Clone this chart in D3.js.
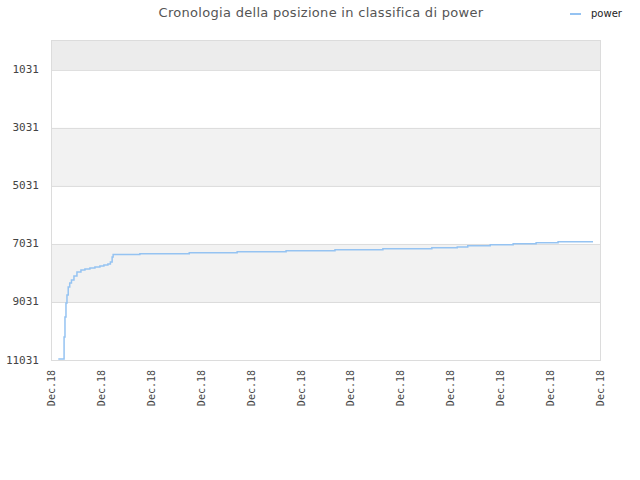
<!DOCTYPE html>
<html>
<head>
<meta charset="utf-8">
<script src="https://cdn.jsdelivr.net/npm/d3@7"></script>
<style>
  body { margin: 0; background: #fff; }
</style>
</head>
<body>
<div id="chart"></div>
<script>
// chart data
const title = "Cronologia della posizione in classifica di power";
const seriesName = "power";
const xTickLabels = ["Dec.18", "Dec.18", "Dec.18", "Dec.18", "Dec.18", "Dec.18",
                     "Dec.18", "Dec.18", "Dec.18", "Dec.18", "Dec.18", "Dec.18"];
const yTicks = [1031, 3031, 5031, 7031, 9031, 11031];
// time in tick units, rank position
const times = [0.146, 0.262, 0.28, 0.30, 0.32, 0.345, 0.375, 0.41, 0.46, 0.52, 0.60, 0.68,
               0.78, 0.88, 0.98, 1.06, 1.14, 1.19, 1.225, 1.245, 1.78, 2.77, 3.73, 4.71,
               5.69, 6.65, 7.63, 8.14, 8.35, 8.80, 9.26, 9.72, 10.16, 10.86];
const ranks = [10996, 10238, 9548, 9066, 8790, 8514, 8376, 8273, 8135, 7998, 7929, 7895,
               7860, 7826, 7791, 7756, 7722, 7653, 7481, 7395, 7367, 7332, 7298, 7263,
               7229, 7194, 7160, 7136, 7091, 7057, 7022, 6988, 6953, 6953];

const width = 640, height = 480;
const margin = {top: 40, right: 40, bottom: 120, left: 51};

const svg = d3.select("#chart").append("svg")
  .attr("width", width)
  .attr("height", height);

const x = d3.scaleLinear()
  .domain([0, xTickLabels.length - 1])
  .range([margin.left, width - margin.right]);
const y = d3.scaleLinear()
  .domain([0, 11031])
  .range([margin.top, height - margin.bottom]);

// alternating bands
const bandEdges = [0].concat(yTicks);
const bandFill = ["#ececec", "#ffffff", "#f2f2f2", "#ffffff", "#f2f2f2", "#ffffff"];
svg.append("g").selectAll("rect")
  .data(d3.pairs(bandEdges))
  .join("rect")
  .attr("x", x.range()[0])
  .attr("width", x.range()[1] - x.range()[0])
  .attr("y", d => y(d[0]))
  .attr("height", d => y(d[1]) - y(d[0]))
  .attr("fill", (d, i) => bandFill[i]);

// grid lines
svg.append("g").selectAll("line")
  .data(yTicks)
  .join("line")
  .attr("x1", x.range()[0])
  .attr("x2", x.range()[1])
  .attr("y1", d => y(d) + 0.5)
  .attr("y2", d => y(d) + 0.5)
  .attr("stroke", "#dcdcdc");

svg.append("rect")
  .attr("x", x.range()[0] + 0.5)
  .attr("y", y.range()[0] + 0.5)
  .attr("width", x.range()[1] - x.range()[0])
  .attr("height", y.range()[1] - y.range()[0])
  .attr("fill", "none")
  .attr("stroke", "#dcdcdc");

// y labels
svg.append("g").selectAll("text")
  .data(yTicks)
  .join("text")
  .attr("x", 39)
  .attr("y", d => y(d))
  .attr("text-anchor", "end")
  .attr("dominant-baseline", "central")
  .attr("font-family", "DejaVu Sans Mono")
  .attr("font-size", 11)
  .attr("fill", "#444")
  .text(d => d);

// x labels
svg.append("g").selectAll("text")
  .data(xTickLabels)
  .join("text")
  .attr("transform", (d, i) => `translate(${x(i) + 4},${y.range()[1] + 10}) rotate(-90)`)
  .attr("text-anchor", "end")
  .attr("font-family", "DejaVu Sans Mono")
  .attr("font-size", 10)
  .attr("fill", "#444")
  .text(d => d);

// the line
const points = times.map((t, i) => [t, ranks[i]]);
const line = d3.line()
  .x(d => x(d[0]))
  .y(d => y(d[1]))
  .curve(d3.curveStepAfter);
svg.append("path")
  .datum(points)
  .attr("d", line)
  .attr("fill", "none")
  .attr("stroke", "#95c3f2")
  .attr("stroke-width", 1.5);

// title
svg.append("text")
  .attr("x", 321)
  .attr("y", 17)
  .attr("text-anchor", "middle")
  .attr("font-family", "DejaVu Sans")
  .attr("font-size", 13)
  .attr("letter-spacing", "0.3px")
  .attr("fill", "#555")
  .text(title);

// legend
svg.append("line")
  .attr("x1", 570).attr("x2", 581)
  .attr("y1", 14).attr("y2", 14)
  .attr("stroke", "#95c3f2")
  .attr("stroke-width", 2);
svg.append("text")
  .attr("x", 591)
  .attr("y", 17)
  .attr("font-family", "DejaVu Sans")
  .attr("font-size", 10)
  .attr("fill", "#222")
  .text(seriesName);
</script>
</body>
</html>
